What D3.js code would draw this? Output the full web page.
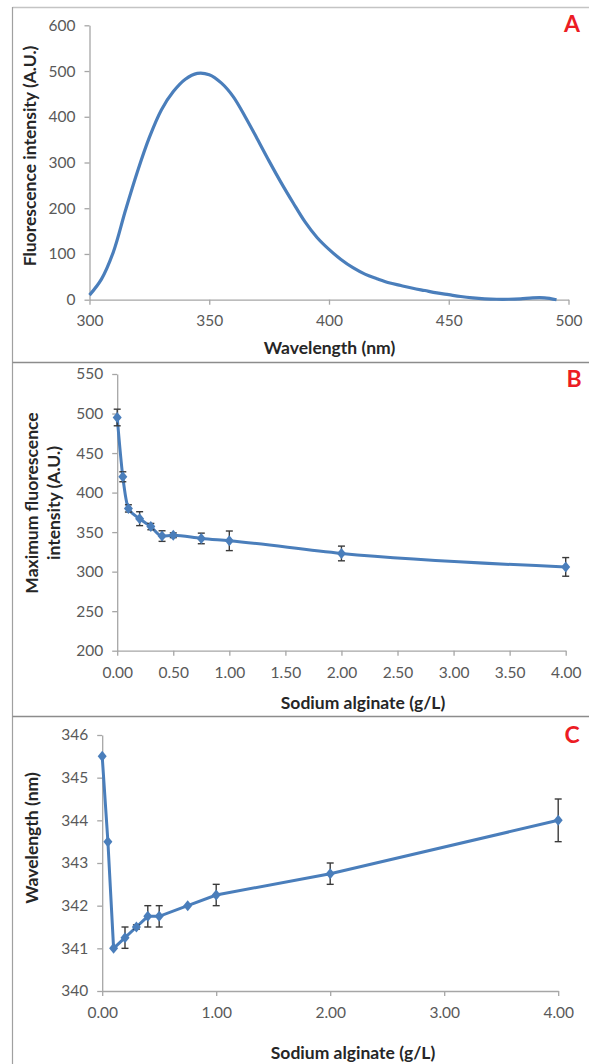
<!DOCTYPE html>
<html><head><meta charset="utf-8">
<script src="https://cdn.jsdelivr.net/npm/d3@7"></script>
<style>
html,body{margin:0;padding:0;background:#fff;}
svg{display:block;font-family:Lato, "Open Sans", sans-serif;}
</style></head>
<body>
<svg id="chart" width="589" height="1064"></svg>
<script>
// Panel A: emission spectrum
const wavelengths = [300,305,310,315,320,325,330,335,340,345,350,355,360,365,370,375,380,385,390,395,400,405,410,415,420,425,430,435,440,445,450,455,460,465,470,475,480,485,490,495];
const intensity   = [10,45,105,195,280,355,415,455,482,495,492,474,444,400,352,303,256,212,170,136,110,88,70,56,46,37,31,25,20,15,11,7,4,2,1,1,2,4,4,0];
const ticksA_x = [300,350,400,450,500];
const ticksA_y = [0,100,200,300,400,500,600];

// Panels B & C: sodium alginate concentration
const alginate = [0,0.05,0.1,0.2,0.3,0.4,0.5,0.75,1,2,4];
const maxIntensity = [495,420,380,367,357,345,346,342,339,323,306];
const maxIntensityErr = [10.5,6.3,4.6,8.8,4,6.7,3,6.7,12.4,9.3,11.8];
const peakWavelength = [345.5,343.5,341,341.25,341.5,341.75,341.75,342,342.25,342.75,344];
const peakWavelengthErr = [0,0,0,0.25,0.05,0.25,0.25,0,0.25,0.25,0.5];
const ticksB_x = [0,0.5,1,1.5,2,2.5,3,3.5,4];
const ticksB_y = [200,250,300,350,400,450,500,550];
const ticksC_x = [0,1,2,3,4];
const ticksC_y = [340,341,342,343,344,345,346];

const svg = d3.select("#chart");
const BLUE = "#4a7ebb", AXIS = "#a6a6a6", TICKTXT = "#595959", TITLE = "#262626", RED = "#ec1c24";

// frames
svg.append("line").attr("x1",12.5).attr("x2",589).attr("y1",7.5).attr("y2",7.5).attr("stroke","#c4c4c4").attr("stroke-width",1.5);
svg.append("line").attr("x1",12.5).attr("x2",12.5).attr("y1",7).attr("y2",1064).attr("stroke","#a0a0a0").attr("stroke-width",1.2);
svg.append("line").attr("x1",12.5).attr("x2",589).attr("y1",362.5).attr("y2",362.5).attr("stroke","#8c8c8c").attr("stroke-width",1.3);
svg.append("line").attr("x1",12.5).attr("x2",589).attr("y1",716.5).attr("y2",716.5).attr("stroke","#8c8c8c").attr("stroke-width",1.3);

function panel(cfg){
  const g = svg.append("g");
  const x = d3.scaleLinear().domain(cfg.xd).range(cfg.xr);
  const y = d3.scaleLinear().domain(cfg.yd).range(cfg.yr);
  const ax = g.append("g").attr("transform",`translate(0,${cfg.yr[0]})`)
    .call(d3.axisBottom(x).tickValues(cfg.xt).tickFormat(cfg.xf).tickSize(5).tickSizeOuter(0).tickPadding(cfg.xpad));
  const ay = g.append("g").attr("transform",`translate(${cfg.xr[0]},0)`)
    .call(d3.axisLeft(y).tickValues(cfg.yt).tickFormat(cfg.yf).tickSize(5).tickSizeOuter(0).tickPadding(cfg.ypad));
  [ax,ay].forEach(a=>{
    a.select(".domain").attr("stroke",AXIS).attr("stroke-width",1.3);
    a.selectAll(".tick line").attr("stroke",AXIS).attr("stroke-width",1.3);
    a.selectAll(".tick text").attr("fill",TICKTXT).attr("font-size",15.5).attr("font-family","Lato");
  });
  // letter
  g.append("text").attr("x",cfg.lx).attr("y",cfg.ly).attr("fill",RED).attr("font-weight","bold")
    .attr("font-size",23).attr("text-anchor","middle").text(cfg.letter);
  // x title
  g.append("text").attr("x",cfg.xtx).attr("y",cfg.xty).attr("text-anchor","middle")
    .attr("font-weight","bold").attr("font-size",17.5).attr("fill",TITLE).text(cfg.xtitle);
  // y title lines
  cfg.ytitle.forEach((t,i)=>{
    g.append("text").attr("transform",`translate(${cfg.ytx[i]},${cfg.yty}) rotate(-90)`)
      .attr("text-anchor","middle").attr("font-weight","bold").attr("font-size",17.5).attr("fill",TITLE).text(t);
  });
  return {g,x,y};
}

// Panel A
const A = panel({xd:[300,500], xr:[89.5,568.5], yd:[0,600], yr:[299.7,25.3],
  xt:ticksA_x, yt:ticksA_y, xf:d3.format("d"), yf:d3.format("d"), xpad:10, ypad:9,
  letter:"A", lx:572, ly:32, xtitle:"Wavelength (nm)", xtx:329.5, xty:354,
  ytitle:["Fluorescence intensity (A.U.)"], ytx:[36], yty:156});
A.g.append("path").datum(wavelengths.map((w,i)=>[w,intensity[i]]))
  .attr("fill","none").attr("stroke",BLUE).attr("stroke-width",3.2)
  .attr("d", d3.line().x(d=>A.x(d[0])).y(d=>A.y(d[1])).curve(d3.curveCatmullRom.alpha(0.5)));

// Panel B
const B = panel({xd:[0,4], xr:[117.2,565.7], yd:[200,550], yr:[650.7,374],
  xt:ticksB_x, yt:ticksB_y, xf:d3.format(".2f"), yf:d3.format("d"), xpad:11, ypad:9,
  letter:"B", lx:574, ly:387, xtitle:"Sodium alginate (g/L)", xtx:363, xty:709,
  ytitle:["Maximum fluorescence","intensity (A.U.)"], ytx:[38,60], yty:503});
const dB = alginate.map((c,i)=>({c, v:maxIntensity[i], e:maxIntensityErr[i]}));
B.g.append("path").datum(dB).attr("fill","none").attr("stroke",BLUE).attr("stroke-width",3)
  .attr("d", d3.line().x(d=>B.x(d.c)).y(d=>B.y(d.v)).curve(d3.curveMonotoneX));

// Panel C
const C = panel({xd:[0,4], xr:[102.2,558.2], yd:[340,346], yr:[991,735],
  xt:ticksC_x, yt:ticksC_y, xf:d3.format(".2f"), yf:d3.format("d"), xpad:11, ypad:9,
  letter:"C", lx:572, ly:743, xtitle:"Sodium alginate (g/L)", xtx:353, xty:1059,
  ytitle:["Wavelength (nm)"], ytx:[38], yty:838});
const dC = alginate.map((c,i)=>({c, v:peakWavelength[i], e:peakWavelengthErr[i]}));
C.g.append("path").datum(dC).attr("fill","none").attr("stroke",BLUE).attr("stroke-width",3)
  .attr("d", d3.line().x(d=>C.x(d.c)).y(d=>C.y(d.v)));

function marks(P, data){
  const eb = P.g.append("g").attr("stroke","#3a3a3a").attr("stroke-width",1.4);
  data.filter(d=>d.e>0).forEach(d=>{
    const cx=P.x(d.c), y1=P.y(d.v-d.e), y2=P.y(d.v+d.e);
    eb.append("line").attr("x1",cx).attr("x2",cx).attr("y1",y1).attr("y2",y2);
    eb.append("line").attr("x1",cx-3.5).attr("x2",cx+3.5).attr("y1",y1).attr("y2",y1);
    eb.append("line").attr("x1",cx-3.5).attr("x2",cx+3.5).attr("y1",y2).attr("y2",y2);
  });
  P.g.append("g").selectAll("path").data(data).join("path")
    .attr("transform",d=>`translate(${P.x(d.c)},${P.y(d.v)})`)
    .attr("d","M0,-5.5L4.5,0L0,5.5L-4.5,0Z").attr("fill",BLUE);
}
marks(B,dB);
marks(C,dC);
</script>
</body></html>
